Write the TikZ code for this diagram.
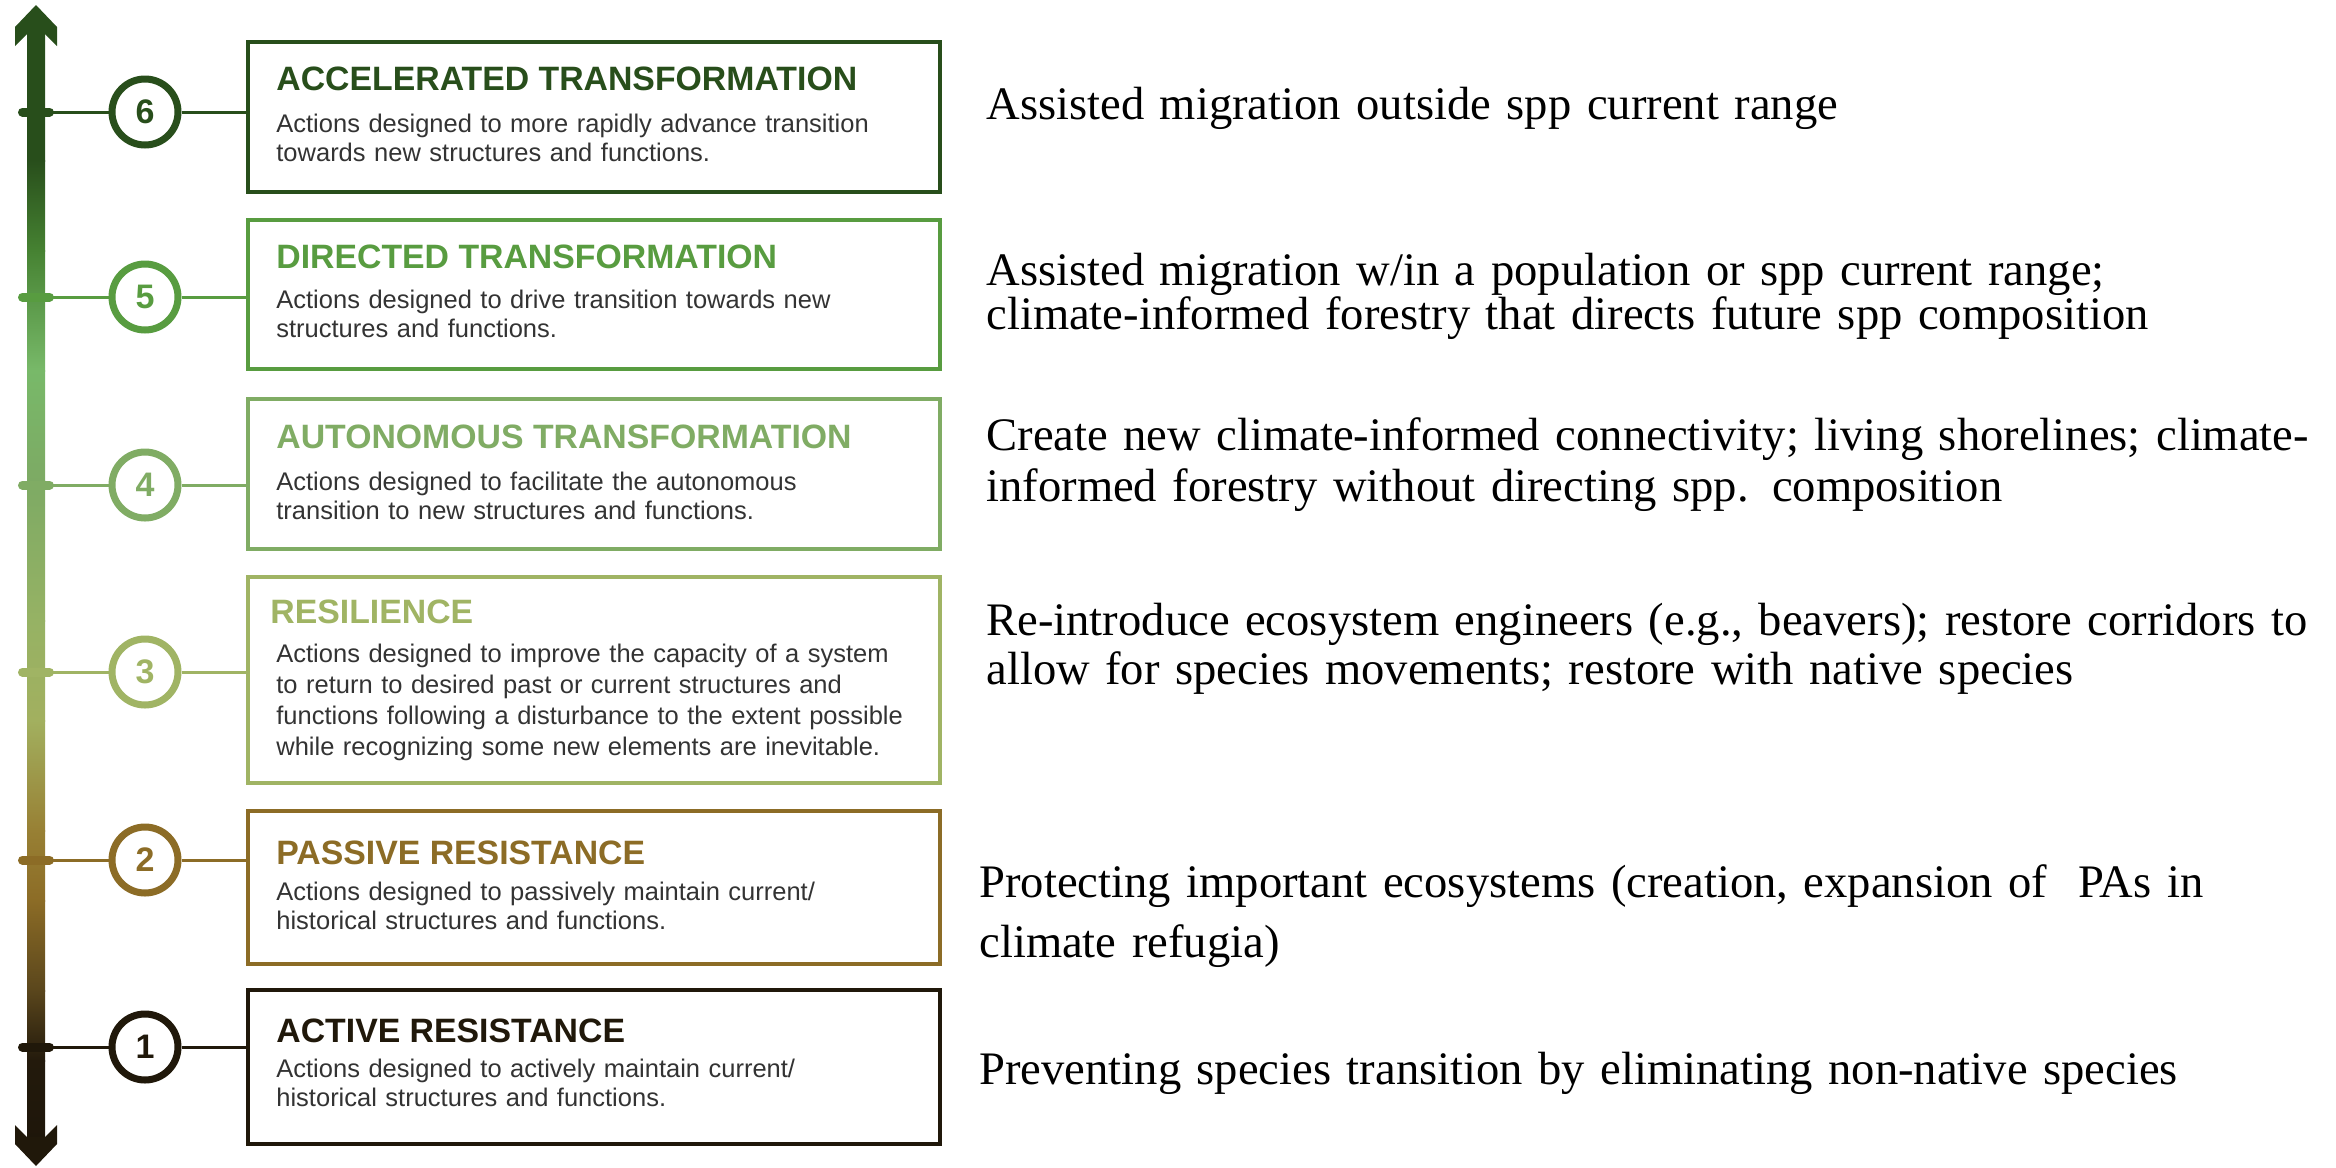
\documentclass[tikz,border=0pt]{standalone}
\usepackage{fontspec}
\setmainfont{Liberation Serif}
\setsansfont{Liberation Sans}
\definecolor{cs}{RGB}{40,78,27}
\definecolor{cf}{RGB}{88,156,64}
\definecolor{cq}{RGB}{128,172,100}
\definecolor{ct}{RGB}{160,180,100}
\definecolor{cb}{RGB}{140,108,38}
\definecolor{ca}{RGB}{32,24,10}
\definecolor{desc}{RGB}{51,51,51}
\definecolor{s0}{RGB}{40,78,27}
\definecolor{s1}{RGB}{70,130,50}
\definecolor{s2}{RGB}{120,185,105}
\definecolor{s3}{RGB}{125,170,100}
\definecolor{s4}{RGB}{150,178,100}
\definecolor{s5}{RGB}{162,176,95}
\definecolor{s6}{RGB}{152,128,52}
\definecolor{s7}{RGB}{140,108,38}
\definecolor{s8}{RGB}{90,70,28}
\definecolor{s9}{RGB}{35,26,12}
\definecolor{s10}{RGB}{30,22,10}
\begin{document}
\begin{tikzpicture}[x=0.5pt,y=0.5pt,
  tickbar/.style={line width=4.5pt, line cap=round},
  conn/.style={line width=1.5pt},
  numcirc/.style={circle, draw=#1, line width=3.5pt, fill=white, minimum size=33pt, inner sep=0pt, text=#1, font=\sffamily\bfseries\fontsize{17}{17}\selectfont},
  levelbox/.style={draw=#1, line width=1.75pt, fill=white, minimum width=346pt, anchor=north west, inner sep=0pt},
  ttl/.style={anchor=base west, inner sep=0pt, text=#1, font=\sffamily\bfseries\fontsize{16.9}{19}\selectfont},
  dsc/.style={anchor=base west, inner sep=0pt, text=desc, text width=340pt, align=left, font=\sffamily\fontsize{12.75}{#1}\selectfont},
  rtxt/.style={anchor=base west, inner sep=0pt, text width=720pt, align=left, text=black, font=\rmfamily\fontsize{23.3}{#1}\selectfont}
]
\useasboundingbox (0,0) rectangle (2336,-1168);
% shaft
\foreach \ya/\yb/\ctop/\cbot in {30/160/s0/s0,160/250/s0/s1,250/370/s1/s2,370/480/s2/s3,480/620/s3/s4,620/720/s4/s5,720/830/s5/s6,830/900/s6/s7,900/990/s7/s8,990/1060/s8/s9,1060/1139/s9/s10}
  \shade[top color=\ctop, bottom color=\cbot] (27,-\ya) rectangle (45,-\yb-1);
% heads
\fill[cs] (36,-5) -- (57,-27) -- (57,-46) -- (45,-34) -- (27,-34) -- (15,-46) -- (15,-27) -- cycle;
\fill[ca] (36,-1166) -- (57,-1144) -- (57,-1125) -- (45,-1137) -- (27,-1137) -- (15,-1125) -- (15,-1144) -- cycle;

% ticks
\coordinate (t6) at (36,-112);
\coordinate (t5) at (36,-297);
\coordinate (t4) at (36,-485);
\coordinate (t3) at (36,-672);
\coordinate (t2) at (36,-860);
\coordinate (t1) at (36,-1047);
\foreach \t/\c in {t6/cs,t5/cf,t4/cq,t3/ct,t2/cb,t1/ca}
  \draw[tickbar, \c] ([xshift=-6.75pt]\t) -- ([xshift=6.75pt]\t);

% boxes
\node[levelbox=cs, minimum height=75pt] (b6) at (246,-40) {};
\node[levelbox=cf, minimum height=74.5pt] (b5) at (246,-218) {};
\node[levelbox=cq, minimum height=75pt] (b4) at (246,-397) {};
\node[levelbox=ct, minimum height=103pt] (b3) at (246,-575) {};
\node[levelbox=cb, minimum height=76.5pt] (b2) at (246,-809) {};
\node[levelbox=ca, minimum height=77pt] (b1) at (246,-988) {};

% circles
\node[numcirc=cs] (n6) at (145,-112) {6};
\node[numcirc=cf] (n5) at (145,-297) {5};
\node[numcirc=cq] (n4) at (145,-485) {4};
\node[numcirc=ct] (n3) at (145,-672) {3};
\node[numcirc=cb] (n2) at (145,-860) {2};
\node[numcirc=ca] (n1) at (145,-1047) {1};

% connectors
\foreach \i/\c in {6/cs,5/cf,4/cq,3/ct,2/cb,1/ca}{
  \draw[conn, \c] (t\i) -- (n\i);
  \draw[conn, \c] (n\i) -- (n\i -| b\i.west);
}

% box texts
\node[ttl=cs] (h6) at (276,-90) {ACCELERATED TRANSFORMATION};
\node[dsc=14.5] (d6) at (276,-132) {Actions designed to more rapidly advance transition\\towards new structures and functions.};
\node[ttl=cf] (h5) at (276,-268) {DIRECTED TRANSFORMATION};
\node[dsc=14.5] (d5) at (276,-308) {Actions designed to drive transition towards new\\structures and functions.};
\node[ttl=cq] (h4) at (276,-448) {AUTONOMOUS TRANSFORMATION};
\node[dsc=14.5] (d4) at (276,-490) {Actions designed to facilitate the autonomous\\transition to new structures and functions.};
\node[ttl=ct] (h3) at (270,-623) {RESILIENCE};
\node[dsc=15.5] (d3) at (276,-662) {Actions designed to improve the capacity of a system\\to return to desired past or current structures and\\functions following a disturbance to the extent possible\\while recognizing some new elements are inevitable.};
\node[ttl=cb] (h2) at (276,-864) {PASSIVE RESISTANCE};
\node[dsc=14.5] (d2) at (276,-900) {Actions designed to passively maintain current/\\historical structures and functions.};
\node[ttl=ca] (h1) at (276,-1042) {ACTIVE RESISTANCE};
\node[dsc=14.5] (d1) at (276,-1077) {Actions designed to actively maintain current/\\historical structures and functions.};

% right texts
\node[rtxt=24] (r6) at (986,-119) {Assisted migration outside spp current range};
\node[rtxt=20] (r5) at (986,-285) {Assisted migration w/in a population or spp current range;\\climate-informed forestry that directs future spp composition};
\node[rtxt=25.5] (r4) at (986,-450) {Create new climate-informed connectivity; living shorelines; climate-\\informed forestry without directing spp. composition};
\node[rtxt=24.5] (r3) at (986,-635) {Re-introduce ecosystem engineers (e.g., beavers); restore corridors to\\allow for species movements; restore with native species};
\node[rtxt=30] (r2) at (979,-897) {Protecting important ecosystems (creation, expansion of~~PAs in\\climate refugia)};
\node[rtxt=24] (r1) at (979,-1084) {Preventing species transition by eliminating non-native species};
\end{tikzpicture}
\end{document}
